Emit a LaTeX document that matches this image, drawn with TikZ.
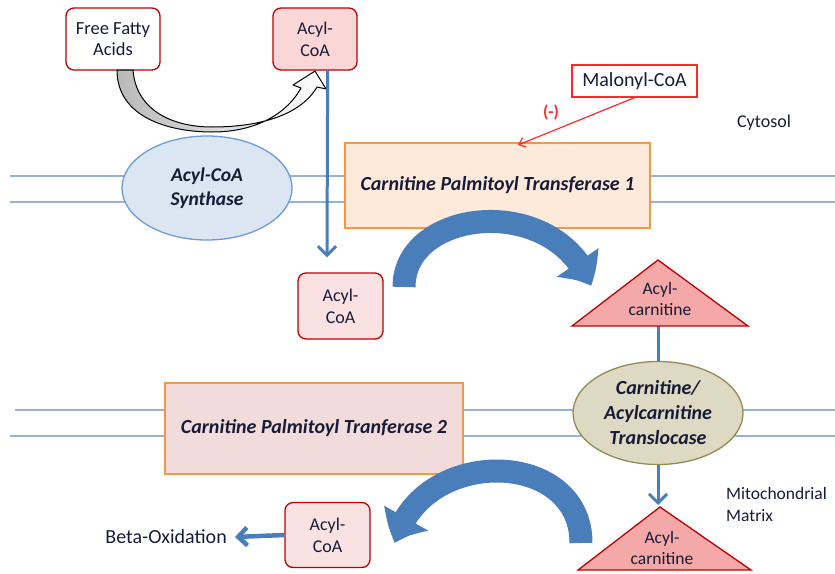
\documentclass[tikz,border=0pt]{standalone}
\usepackage{fontspec}
\setmainfont{Carlito}
\usetikzlibrary{arrows.meta,shapes.geometric,calc,bending}
\definecolor{txt}{RGB}{22,28,55}
\definecolor{dred}{RGB}{192,0,0}
\definecolor{pinkfill}{RGB}{250,214,214}
\definecolor{trifill}{RGB}{245,168,168}
\definecolor{bl}{RGB}{74,126,187}
\definecolor{memb}{RGB}{149,179,215}
\definecolor{synfill}{RGB}{220,230,242}
\definecolor{synline}{RGB}{108,155,215}
\definecolor{cptonefill}{RGB}{253,234,218}
\definecolor{orng}{RGB}{247,150,70}
\definecolor{cpttwofill}{RGB}{242,220,219}
\definecolor{tlfill}{RGB}{221,217,195}
\definecolor{tlline}{RGB}{148,138,84}
\definecolor{malred}{RGB}{255,40,40}
\tikzset{
  membline/.style={draw=memb,line width=2pt},
  redbox/.style={draw=dred,line width=1.3pt,rounded corners=8pt,minimum width=#1,align=center,text=txt,font=\fontsize{18}{22}\selectfont,inner sep=0pt},
  enz/.style={line width=1.3pt,align=center,text=txt,font=\fontsize{20}{25}\selectfont\bfseries\itshape,inner sep=0pt},
  thinblue/.style={draw=bl,line width=3pt},
  bigarrow/.style={draw=bl,line width=23pt,-{Triangle[width=48pt,length=28pt,bend]}},
  lbl/.style={text=txt,align=left,inner sep=0pt},
  trip/.style={draw=dred,line width=1.3pt,fill=trifill,line join=miter}
}
\begin{document}
\begin{tikzpicture}[x=1pt,y=-1pt]
\useasboundingbox (0,0) rectangle (835,573);
% membranes
\draw[membline] (10,176) -- (835,176);
\draw[membline] (10,202) -- (835,202);
\draw[membline] (15,410) -- (835,410);
\draw[membline] (10,436) -- (835,436);

% boxes
\node[redbox=94pt,fill=white,minimum height=62pt,font=\fontsize{18.5}{21}\selectfont] (ffa) at (113,39) {Free Fatty\\Acids};
\node[redbox=84pt,fill=pinkfill,minimum height=62pt] (acylA) at (315,39) {Acyl-\\CoA};
\node[redbox=85pt,fill=pinkfill!70!white,minimum height=66pt] (acylB) at (340.5,306) {Acyl-\\CoA};
\node[redbox=85pt,fill=pinkfill!70!white,minimum height=65pt] (acylC) at (327.5,535) {Acyl-\\CoA};

\node[enz,ellipse,draw=synline,fill=synfill,minimum width=170pt,minimum height=104pt,font=\fontsize{19.5}{24}\selectfont\bfseries\itshape] (syn) at (207,188) {Acyl-CoA\\Synthase};
\node[enz,rectangle,draw=orng,fill=cptonefill,minimum width=305pt,minimum height=85pt] (cpta) at (497.5,185.5) {Carnitine Palmitoyl Transferase 1};
\node[enz,rectangle,draw=orng,fill=cpttwofill,minimum width=298pt,minimum height=91pt] (cptb) at (314,428.5) {Carnitine Palmitoyl Tranferase 2};

% translocase connections
\coordinate (triAbase) at (658,326);
\coordinate (triBtop) at (658,505);
\node[enz,ellipse,draw=tlline,fill=tlfill,minimum width=170pt,minimum height=103pt] (tl) at (658,413) {Carnitine/\\Acylcarnitine\\Translocase};
\draw[thinblue] (triAbase) -- (tl.north);
\draw[thinblue,-{Straight Barb[length=9pt,width=18pt]}] (tl.south) -- (triBtop);

% triangles
\draw[trip] (658,260) -- (748,326) -- (572,326) -- cycle;
\node[lbl,align=center,font=\fontsize{17.5}{21}\selectfont] (carA) at (660,299) {Acyl-\\carnitine};
\draw[trip] (660,507) -- (751,570) -- (578,570) -- cycle;
\node[lbl,align=center,font=\fontsize{17.5}{21}\selectfont] (carB) at (662,548) {Acyl-\\carnitine};

% malonyl
\node[draw=malred,line width=1.3pt,fill=white,minimum width=125pt,minimum height=32pt,inner sep=0pt,text=txt,font=\fontsize{20}{24}\selectfont] (mal) at (634.5,81) {Malonyl-CoA};
\coordinate (malend) at (518,145);
\draw[draw=malred,line width=1.2pt,-{Straight Barb[length=6pt,width=10pt]}] (mal.south) -- (malend);
\node[text=malred,font=\fontsize{17}{20}\selectfont\bfseries,inner sep=0pt] (minus) at (551,112) {(-)};

% labels
\node[lbl,font=\fontsize{18}{22}\selectfont] (cyto) at (764,123) {Cytosol};
\node[lbl,anchor=west,font=\fontsize{17.5}{22}\selectfont] (matrix) at (726,504) {Mitochondrial\\Matrix};
\node[lbl,anchor=east,font=\fontsize{20}{24}\selectfont] (beta) at (227,537) {Beta-Oxidation};

% gray curved arrow FFA -> Acyl-CoA
\coordinate (gA) at (117,70);
\path[draw=black,line width=1pt,left color=gray!55,right color=white,line join=round]
  (gA) .. controls (117,118) and (170,132) .. (212,132)
  .. controls (258,132) and (288,112) .. (301,88)
  -- (293,85) -- (315,71) -- (326,89) -- (317,87)
  .. controls (300,116) and (258,127) .. (212,127)
  .. controls (172,127) and (136,110) .. (133,70) -- cycle;

% blue vertical arrow
\draw[thinblue,-{Straight Barb[length=9pt,width=18pt]}] ([xshift=-30pt]acylA.south east) -- ([xshift=-13.5pt,yshift=15pt]acylB.north);

% big arrows
\coordinate (bAs) at (404,287);
\coordinate (bAe) at (591,286);
\draw[bigarrow] (bAs) .. controls (404,208) and (556,192) .. (bAe);
\coordinate (bBs) at (581,543);
\coordinate (bBe) at (395,543);
\draw[bigarrow] (bBs) .. controls (581,448) and (420,446) .. (bBe);

% beta oxidation arrow
\draw[draw=bl,line width=4.5pt,-{Straight Barb[length=9pt,width=18pt]}] (acylC.west) -- ([xshift=8pt]beta.east);
\end{tikzpicture}
\end{document}
